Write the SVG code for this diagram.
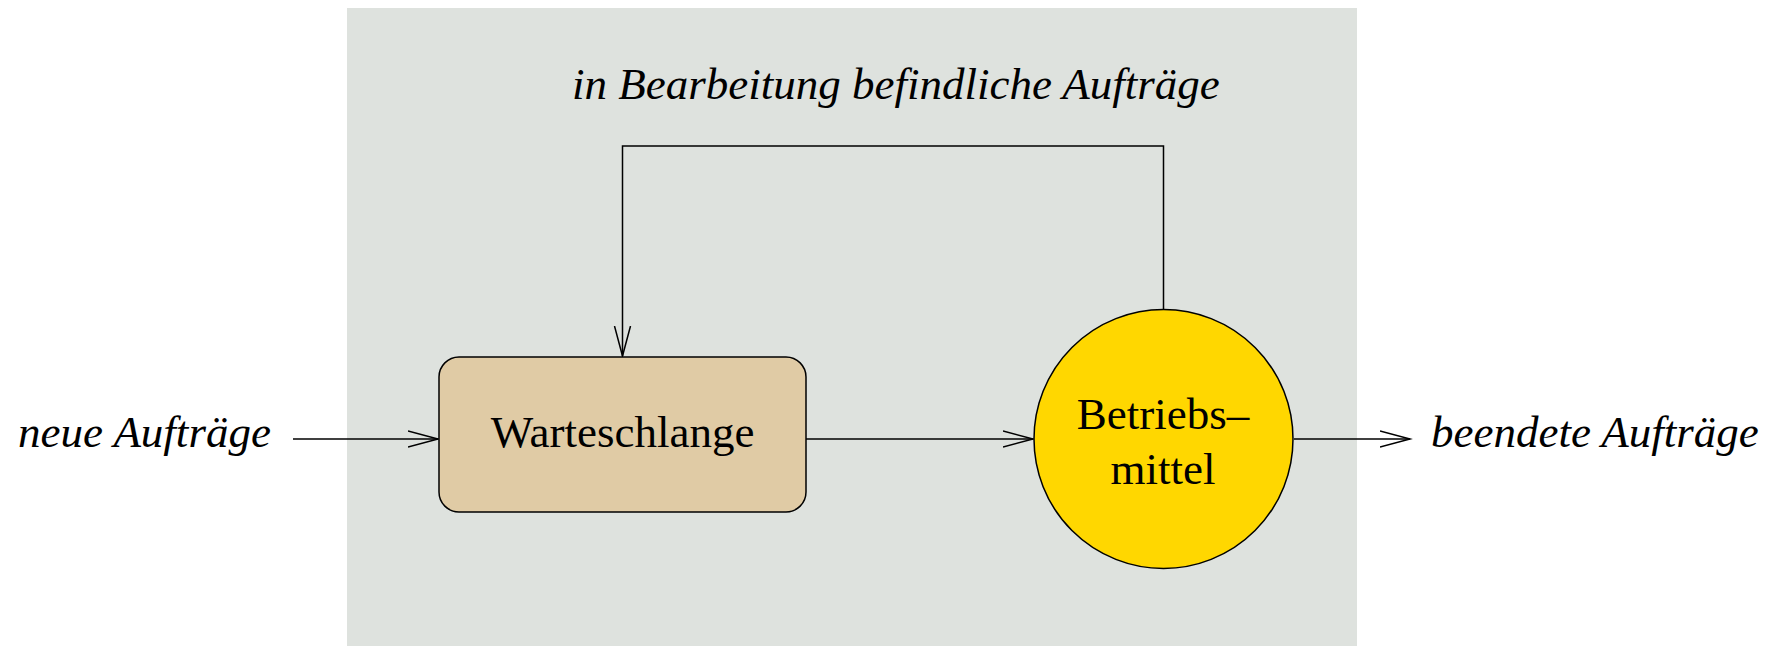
<svg xmlns="http://www.w3.org/2000/svg" width="1773" height="646" viewBox="0 0 1773 646">
  <defs>
    <style>
      .lbl { font-family: "Liberation Serif", "Times New Roman", serif; font-size: 45px; fill: #000; }
      .it { font-style: italic; }
      .wire { fill: none; stroke: #000; stroke-width: 1.5; }
    </style>
    <marker id="open" markerUnits="userSpaceOnUse" markerWidth="34" markerHeight="20" refX="30" refY="10" orient="auto">
      <path d="M0,2 L30,10 L0,18" fill="none" stroke="#000" stroke-width="1.5"/>
    </marker>
  </defs>

  <rect width="1773" height="646" fill="#ffffff"/>

  <!-- system boundary -->
  <rect id="system" x="347" y="8" width="1010" height="638" fill="#dee2de"/>

  <text class="lbl it" x="572" y="99">in Bearbeitung befindliche Aufträge</text>

  <g id="connectors">
    <path class="wire" d="M293,439 H438" marker-end="url(#open)"/>
    <path class="wire" d="M806,439 H1033" marker-end="url(#open)"/>
    <path class="wire" d="M1294,439 H1410" marker-end="url(#open)"/>
    <path class="wire" d="M1163.5,309 V146 H622.5 V356" marker-end="url(#open)"/>
  </g>

  <g id="queue">
    <rect x="439" y="357" width="367" height="155" rx="20" ry="20" fill="#e0cba5" stroke="#000" stroke-width="1.5"/>
    <text class="lbl" x="622.5" y="447" text-anchor="middle">Warteschlange</text>
  </g>

  <g id="server">
    <circle cx="1163.5" cy="439" r="129.5" fill="#ffd700" stroke="#000" stroke-width="1.5"/>
    <text class="lbl" x="1163" y="429" text-anchor="middle">Betriebs–</text>
    <text class="lbl" x="1163" y="484" text-anchor="middle">mittel</text>
  </g>

  <g id="source">
    <text class="lbl it" x="18" y="447">neue Aufträge</text>
  </g>

  <g id="sink">
    <text class="lbl it" x="1431" y="447">beendete Aufträge</text>
  </g>
</svg>
